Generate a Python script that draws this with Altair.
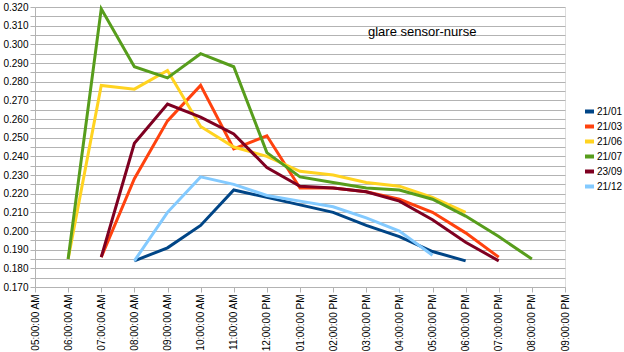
import altair as alt
import pandas as pd

hours = [6, 7, 8, 9, 10, 11, 12, 13, 14, 15, 16, 17, 18, 19, 20]
series = ["21/01", "21/03", "21/06", "21/07", "23/09", "21/12"]
colors = ["#004586", "#ff420e", "#ffd320", "#579d1c", "#7e0021", "#83caff"]

v_2101 = [None, None, 0.184, 0.191, 0.203, 0.222, 0.218, 0.214, 0.210, 0.203, 0.197, 0.189, 0.184, None, None]
v_2103 = [None, 0.186, 0.228, 0.259, 0.278, 0.244, 0.251, 0.223, 0.223, 0.221, 0.217, 0.210, 0.199, 0.186, None]
v_2106 = [0.185, 0.278, 0.276, 0.286, 0.256, 0.245, 0.240, 0.232, 0.230, 0.226, 0.224, 0.218, 0.210, None, None]
v_2107 = [0.185, 0.319, 0.288, 0.282, 0.295, 0.288, 0.242, 0.229, 0.226, 0.223, 0.222, 0.217, 0.208, 0.197, 0.185]
v_2309 = [None, 0.186, 0.247, 0.268, 0.261, 0.252, 0.234, 0.224, 0.223, 0.221, 0.216, 0.206, 0.194, 0.184, None]
v_2112 = [None, None, 0.184, 0.210, 0.229, 0.225, 0.219, 0.216, 0.213, 0.207, 0.200, 0.187, None, None, None]

all_vals = [v_2101, v_2103, v_2106, v_2107, v_2309, v_2112]
rows = []
for name, vals in zip(series, all_vals):
    for i, (h, v) in enumerate(zip(hours, vals)):
        if v is not None:
            rows.append({"series": name, "hour": h, "value": v, "order": i})
df = pd.DataFrame(rows)

x_ticks = list(range(5, 22))
y_ticks = [round(0.170 + 0.005 * i, 3) for i in range(31)]

label_x = ("(datum.value > 12 ? ((datum.value - 12 < 10 ? '0' : '') + (datum.value - 12))"
           " : ((datum.value < 10 ? '0' : '') + datum.value)) + ':00:00 ' + (datum.value < 12 ? 'AM' : 'PM')")
label_y = "round(datum.value * 1000) % 10 == 0 ? format(datum.value, '.3f') : ''"

font = "Liberation Sans"

chart = alt.Chart(df).mark_line(strokeWidth=3).encode(
    x=alt.X("hour:Q", scale=alt.Scale(domain=[5, 21], nice=False, zero=False),
            axis=alt.Axis(values=x_ticks, labelExpr=label_x, labelAngle=-90, title=None,
                          grid=False, tickSize=5, labelPadding=2, labelFont=font,
                          labelFontSize=10, labelColor="#000000", domainColor="#b3b3b3",
                          tickColor="#b3b3b3", labelOverlap=False, labelFlush=False)),
    y=alt.Y("value:Q", scale=alt.Scale(domain=[0.170, 0.320], nice=False, zero=False),
            axis=alt.Axis(values=y_ticks, labelExpr=label_y, title=None, grid=True,
                          gridColor="#b3b3b3", gridOpacity=1, tickSize=5, labelPadding=2,
                          labelFont=font, labelFontSize=10, labelColor="#000000",
                          domainColor="#b3b3b3", tickColor="#b3b3b3", labelOverlap=False,
                          labelFlush=False)),
    color=alt.Color("series:N", scale=alt.Scale(domain=series, range=colors), sort=series,
                    legend=alt.Legend(title=None, orient="none", legendX=548, legendY=98,
                                      symbolType="stroke", symbolStrokeWidth=4, symbolSize=81,
                                      labelFont=font, labelFontSize=10, labelColor="#000000",
                                      rowPadding=-2.6, labelOffset=1, padding=0)),
    order=alt.Order("order:Q"),
).properties(
    width=530,
    height=280,
    autosize=alt.AutoSizeParams(type="none"),
    padding={"left": 35, "top": 7, "right": 59, "bottom": 65},
    title=alt.TitleParams("glare sensor-nurse", anchor="start", dx=365, dy=41,
                          font=font, fontSize=13, fontWeight="normal", color="#000000"),
).configure_view(stroke="#b3b3b3", strokeWidth=1).configure(background="white")

chart.save("out.html", embed_options={"renderer": "svg", "actions": False})
